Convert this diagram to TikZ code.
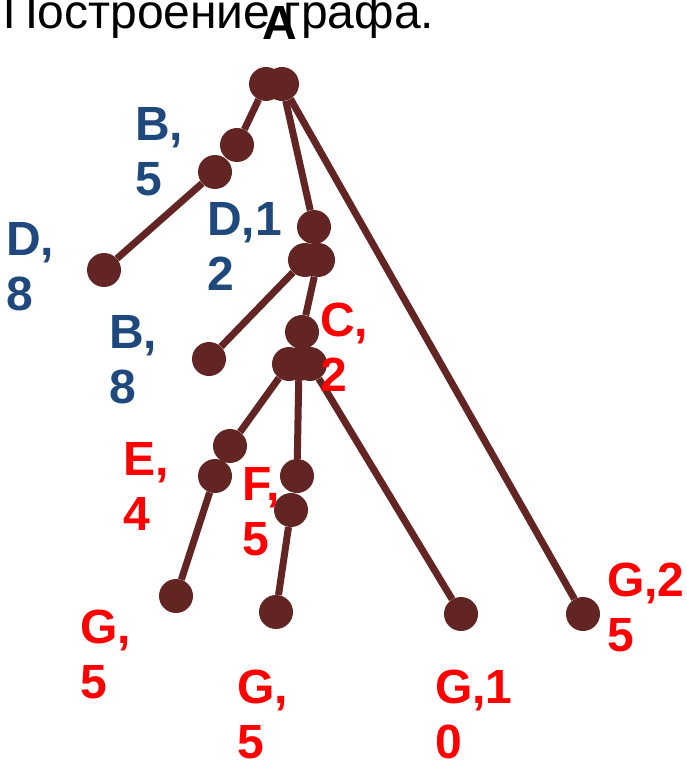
\documentclass[tikz,border=0pt]{standalone}
\usepackage{fontspec}
\setmainfont{Liberation Sans}
\usepackage{xcolor}
\definecolor{granate}{HTML}{632523}
\definecolor{azul}{HTML}{1F497D}
\definecolor{rojo}{HTML}{FF0000}

\begin{document}
\begin{tikzpicture}[
  x=1pt, y=-1pt,
  punto/.style={circle, fill=granate, inner sep=0pt, minimum size=34pt},
  etiqueta/.style={anchor=north west, inner sep=0pt, align=left, font=\fontsize{48}{55}\selectfont\bfseries},
  azulada/.style={etiqueta, text=azul},
  roja/.style={etiqueta, text=rojo},
  arista/.style={draw=granate, line width=7pt}
]
\useasboundingbox (0,0) rectangle (686,767);
\node[anchor=base west, inner sep=0pt, font=\fontsize{48}{55}\selectfont] (titulo) at (3,29) {Построение графа.};
\node[anchor=base, inner sep=0pt, font=\fontsize{48}{55}\selectfont\bfseries] (raiz) at (280,40) {A};

% puntos
\node[punto] (a1) at (266,84) {};
\node[punto] (a2) at (282,84) {};
\node[punto] (b5a) at (237,145) {};
\node[punto] (b5b) at (215,172) {};
\node[punto] (d8) at (104,270) {};
\node[punto] (d12a) at (314,227) {};
\node[punto] (d12b) at (305,260) {};
\node[punto] (d12c) at (318,260) {};
\node[punto] (b8) at (209,359) {};
\node[punto] (c2a) at (302,332) {};
\node[punto] (c2b) at (289,364) {};
\node[punto] (c2m) at (299,364) {};
\node[punto] (c2c) at (310,364) {};
\node[punto] (e4a) at (230,446) {};
\node[punto] (e4b) at (215,476) {};
\node[punto] (g5a) at (176,596) {};
\node[punto] (f5a) at (297,476) {};
\node[punto] (f5b) at (291,510) {};
\node[punto] (g5b) at (276,612) {};
\node[punto] (g10) at (461,614) {};
\node[punto] (g25) at (583,614) {};

% aristas
\draw[arista] (a1) -- (b5a);
\draw[arista] (b5b) -- (d8);
\draw[arista] (a2) -- (d12a);
\draw[arista] (a2) -- (g25);
\draw[arista] (d12b) -- (b8);
\draw[arista] (d12c) -- (c2a);
\draw[arista] (c2b) -- (e4a);
\draw[arista] (c2m) -- (f5a);
\draw[arista] (c2c) -- (g10);
\draw[arista] (e4b) -- (g5a);
\draw[arista] (f5b) -- (g5b);

% etiquetas
\node[azulada] (tb5) at (135,107) {B,\\5};
\node[azulada] (td12) at (207,202) {D,1\\2};
\node[azulada] (td8) at (6,222) {D,\\8};
\node[azulada] (tb8) at (109,315) {B,\\8};
\node[roja] (tc2) at (320,303) {C,\\2};
\node[roja] (te4) at (123,442) {E,\\4};
\node[roja] (tf5) at (242,467) {F,\\5};
\node[roja] (tg5a) at (80,610) {G,\\5};
\node[roja] (tg5b) at (237,670) {G,\\5};
\node[roja] (tg10) at (435,670) {G,1\\0};
\node[roja] (tg25) at (607,563) {G,2\\5};
\end{tikzpicture}
\end{document}
